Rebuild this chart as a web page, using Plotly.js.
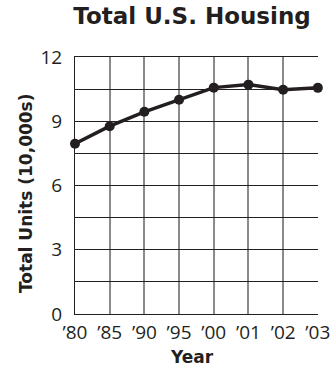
<!DOCTYPE html>
<html>
<head>
<meta charset="utf-8">
<script src="https://cdn.plot.ly/plotly-3.0.1.min.js"></script>
<style>
  html, body { margin: 0; padding: 0; background: #fff; }
  #chart { width: 334px; height: 374px; }
</style>
</head>
<body>
<div id="chart"></div>
<script>
const years = ["\u201980", "\u201985", "\u201990", "\u201995", "\u201900", "\u201901", "\u201902", "\u201903"];
const totalUnits = [7.95, 8.77, 9.44, 10.0, 10.57, 10.71, 10.47, 10.56];
const yTickVals = [0, 1.5, 3, 4.5, 6, 7.5, 9, 10.5, 12];
const yTickText = ["0", "", "3", "", "6", "", "9", "", "12"];
const chartTitle = "Total U.S. Housing";
const xTitle = "Year";
const yTitle = "Total Units (10,000s)";

const ink = "#231f20";
const fontFam = "'DejaVu Sans', 'Open Sans', sans-serif";
const tickFam = "'Open Sans', 'DejaVu Sans', sans-serif";

const trace = {
  type: "scatter",
  mode: "lines+markers",
  x: years,
  y: totalUnits,
  line: { color: ink, width: 3.5 },
  marker: { color: ink, size: 10 },
  cliponaxis: false,
  hoverinfo: "skip"
};

const layout = {
  width: 334,
  height: 374,
  margin: { l: 75, r: 16, t: 57, b: 60 },
  paper_bgcolor: "#fff",
  plot_bgcolor: "#fff",
  showlegend: false,
  font: { family: fontFam, color: ink },
  title: {
    text: "<b>" + chartTitle + "</b>",
    font: { family: fontFam, size: 23, color: ink },
    x: 0.575, xanchor: "center",
    y: 0.957, yanchor: "middle"
  },
  xaxis: {
    type: "category",
    range: [0, 7.005],
    showgrid: true,
    gridcolor: "#8a8a8a",
    gridwidth: 2,
    showline: true,
    mirror: true,
    linecolor: ink,
    linewidth: 1,
    ticks: "",
    ticklabelstandoff: 1,
    tickfont: { family: tickFam, size: 19, color: ink },
    zeroline: false,
    fixedrange: true
  },
  yaxis: {
    range: [0, 12],
    tickvals: yTickVals,
    ticktext: yTickText,
    showgrid: true,
    gridcolor: ink,
    gridwidth: 1,
    showline: true,
    linecolor: ink,
    linewidth: 1,
    ticks: "",
    ticklabelstandoff: 8,
    tickfont: { family: tickFam, size: 19, color: ink },
    zeroline: false,
    fixedrange: true
  },
  annotations: [
    {
      text: "<b>" + yTitle + "</b>",
      xref: "paper", yref: "paper",
      x: -0.2016, y: 0.4708,
      xanchor: "center", yanchor: "middle",
      textangle: -90,
      showarrow: false,
      font: { family: fontFam, size: 17, color: ink }
    },
    {
      text: "<b>" + xTitle + "</b>",
      xref: "paper", yref: "paper",
      x: 0.4815, y: -0.167,
      xanchor: "center", yanchor: "middle",
      showarrow: false,
      font: { family: fontFam, size: 17, color: ink }
    }
  ]
};

Plotly.newPlot("chart", [trace], layout, { displayModeBar: false, staticPlot: true });
</script>
</body>
</html>
